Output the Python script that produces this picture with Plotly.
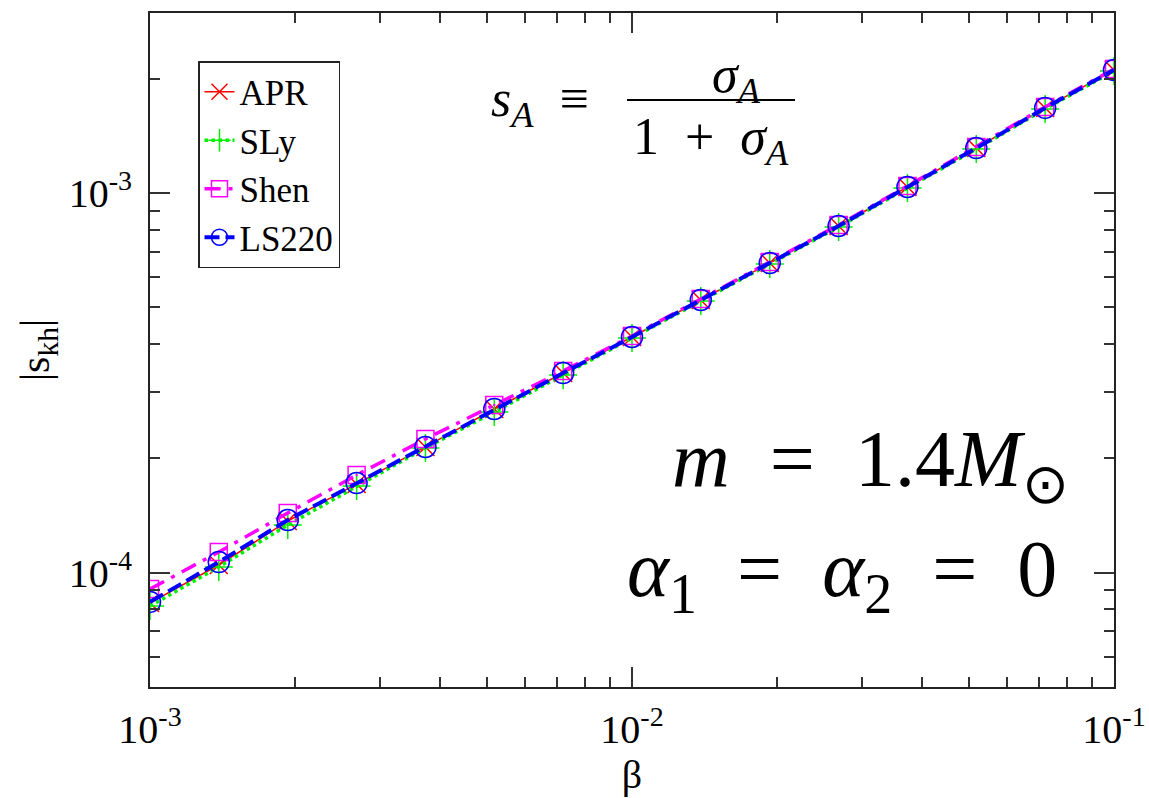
import plotly.graph_objects as go

# beta grid: 7 points per decade from 1e-3 to 1e-1
beta = [1.000e-3, 1.389e-3, 1.931e-3, 2.683e-3, 3.728e-3, 5.179e-3, 7.197e-3,
        1.000e-2, 1.389e-2, 1.931e-2, 2.683e-2, 3.728e-2, 5.179e-2, 7.197e-2, 1.000e-1]

s_apr = [8.32e-5, 1.047e-4, 1.368e-4, 1.712e-4, 2.144e-4, 2.700e-4, 3.358e-4,
         4.180e-4, 5.233e-4, 6.550e-4, 8.20e-4, 1.039e-3, 1.316e-3, 1.679e-3, 2.114e-3]
s_sly = [8.16e-5, 1.035e-4, 1.335e-4, 1.691e-4, 2.131e-4, 2.651e-4, 3.319e-4,
         4.155e-4, 5.200e-4, 6.511e-4, 8.15e-4, 1.033e-3, 1.308e-3, 1.669e-3, 2.101e-3]
s_shen = [9.05e-5, 1.133e-4, 1.436e-4, 1.808e-4, 2.250e-4, 2.766e-4, 3.400e-4,
          4.206e-4, 5.265e-4, 6.590e-4, 8.25e-4, 1.045e-3, 1.325e-3, 1.689e-3, 2.127e-3]
s_ls220 = [8.37e-5, 1.066e-4, 1.376e-4, 1.722e-4, 2.144e-4, 2.700e-4, 3.358e-4,
           4.180e-4, 5.233e-4, 6.550e-4, 8.20e-4, 1.039e-3, 1.316e-3, 1.679e-3, 2.114e-3]

x_tickvals = [1e-3, 1e-2, 1e-1]
x_ticktext = ["10<sup>-3</sup>", "10<sup>-2</sup>", "10<sup>-1</sup>"]
y_tickvals = [1e-4, 1e-3]
y_ticktext = ["10<sup>-4</sup>", "10<sup>-3</sup>"]

SERIF = "Liberation Serif"
W, H = 1149, 798
ML, MR, MT, MB = 150, 35, 13, 111


def px_x(p):
    return (p - ML) / (W - ML - MR)


def px_y(p):
    return (H - MB - p) / (H - MT - MB)


fig = go.Figure()

fig.add_trace(go.Scatter(
    x=beta, y=s_apr, name="APR", mode="lines+markers",
    line=dict(color="#ff0000", width=1.5),
    marker=dict(symbol="x-thin", size=18, color="#ff0000",
                line=dict(color="#ff0000", width=1.5)),
))
fig.add_trace(go.Scatter(
    x=beta, y=s_sly, name="SLy", mode="lines+markers",
    line=dict(color="#00f000", width=3.5, dash="dot"),
    marker=dict(symbol="cross-thin", size=20, color="#00f000",
                line=dict(color="#00f000", width=1.5)),
))
fig.add_trace(go.Scatter(
    x=beta, y=s_shen, name="Shen", mode="lines+markers",
    line=dict(color="#ff00ff", width=3.5, dash="16px,8px,4px,8px"),
    marker=dict(symbol="square-open-dot", size=17, color="#ff00ff",
                line=dict(color="#ff00ff", width=1.5)),
))
fig.add_trace(go.Scatter(
    x=beta, y=s_ls220, name="LS220", mode="lines+markers",
    line=dict(color="#0000ff", width=4, dash="15px,6px"),
    marker=dict(symbol="circle-open", size=21, color="#0000ff",
                line=dict(color="#0000ff", width=1.5)),
))

axis_common = dict(
    type="log", showgrid=False, zeroline=False, automargin=False,
    showline=True, linecolor="#222222", linewidth=2, mirror="allticks",
    ticks="inside", ticklen=20, tickwidth=1.5, tickcolor="#333333",
    tickfont=dict(family=SERIF, size=40, color="black"),
    minor=dict(ticks="inside", ticklen=10, tickwidth=1.5, tickcolor="#333333",
               dtick="D1", showgrid=False),
)

fig.update_xaxes(
    **axis_common, range=[-3, -1], tickmode="array",
    tickvals=x_tickvals, ticktext=x_ticktext, ticklabelstandoff=6,
    title=dict(text="β", font=dict(family=SERIF, size=40, color="black"), standoff=0),
)
fig.update_yaxes(
    **axis_common, range=[-4.3016, -2.5247], tickmode="array",
    tickvals=y_tickvals, ticktext=y_ticktext, ticklabelstandoff=8,
    title=dict(text="|s<sub>kh</sub>|", font=dict(family=SERIF, size=42, color="black"),
               standoff=6),
)

annotations = [
    dict(text="<i>s</i><sub><i>A</i></sub>  ≡", x=px_x(540), y=px_y(103),
         font=dict(size=52)),
    dict(text="<i>σ</i><sub><i>A</i></sub>", x=px_x(736), y=px_y(78),
         font=dict(size=52)),
    dict(text="1  +  <i>σ</i><sub><i>A</i></sub>", x=px_x(711), y=px_y(140),
         font=dict(size=52)),
    dict(text="<i>m</i>  =  1.4<i>M</i><sub>⊙</sub>", x=px_x(870), y=px_y(465),
         font=dict(size=80)),
    dict(text="<i>α</i><sub>1</sub>  =  <i>α</i><sub>2</sub>  =  0", x=px_x(842), y=px_y(575),
         font=dict(size=80)),
]
for a in annotations:
    a.update(xref="paper", yref="paper", showarrow=False,
             xanchor="center", yanchor="middle")
    a["font"].update(family=SERIF, color="black")

fig.update_layout(
    width=W, height=H,
    margin=dict(l=ML, r=MR, t=MT, b=MB),
    paper_bgcolor="white", plot_bgcolor="white",
    font=dict(family=SERIF, color="black"),
    annotations=annotations,
    shapes=[dict(type="line", xref="paper", yref="paper",
                 x0=px_x(627), x1=px_x(795), y0=px_y(100), y1=px_y(100),
                 line=dict(color="black", width=2))],
    legend=dict(
        x=px_x(198), y=px_y(61), xanchor="left", yanchor="top",
        bgcolor="white", bordercolor="#222222", borderwidth=1.5,
        font=dict(family=SERIF, size=35, color="black"),
        tracegroupgap=0,
    ),
    showlegend=True,
)

fig.write_html("out.html")
